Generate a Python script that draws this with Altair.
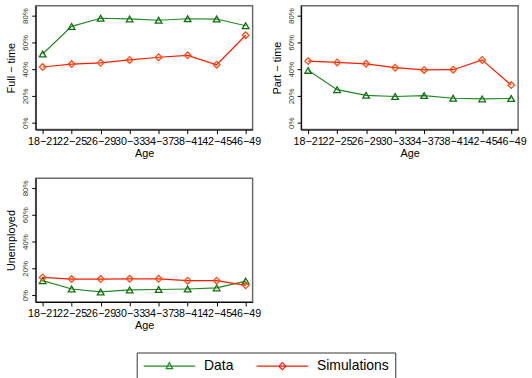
import altair as alt
import pandas as pd

ages = ["18−21", "22−25", "26−29", "30−33", "34−37", "38−41", "42−45", "46−49"]
series = ["Data", "Simulations"]
ft_data = [51.3, 71.9, 78.0, 77.5, 76.5, 77.6, 77.4, 72.4]
ft_sim = [41.6, 43.8, 44.7, 46.9, 48.9, 50.3, 43.3, 65.3]
pt_data = [39.1, 24.7, 20.5, 19.6, 20.3, 18.3, 17.8, 18.1]
pt_sim = [46.0, 45.0, 44.0, 41.1, 39.4, 39.6, 46.9, 28.1]
un_data = [10.8, 4.6, 2.4, 3.9, 4.2, 4.6, 5.4, 10.5]
un_sim = [13.2, 12.0, 12.0, 12.2, 12.2, 10.8, 10.8, 7.3]
y_ticks = [0, 0.2, 0.4, 0.6, 0.8]

GREEN = "#1f8a1f"
GREEN_MK = "#0f700f"
RED = "#ff1a00"
RED_MK = "#ff4a10"
FONT = "Liberation Sans"

TRI_PATH = "M-1,0H7M3,-0.55L3.5,0.4L2.5,0.4Z"
DIA_PATH = "M-1,0H7M3,-0.55L3.55,0L3,0.55L2.45,0Z"

legend = alt.Legend(
    title=None, orient="none", legendX=102, legendY=350, direction="horizontal",
    symbolSize=169, symbolStrokeWidth=1.2, symbolFillColor="transparent",
    symbolType=alt.ExprRef(f"datum.value === 'Data' ? '{TRI_PATH}' : '{DIA_PATH}'"),
    labelFontSize=14, labelFont=FONT, labelColor="black",
    strokeColor="#333", padding=6, columnPadding=20, labelOffset=47,
)


def panel(title, d, s):
    df = pd.DataFrame({
        "Age": ages * 2,
        "Series": ["Data"] * len(ages) + ["Simulations"] * len(ages),
        "v": [v / 100 for v in d + s],
    })
    x = alt.X("Age:N", sort=ages, scale=alt.Scale(type="point", padding=0.24),
              axis=alt.Axis(title="Age", labelAngle=0, labelOverlap=False, labelFontSize=10.8,
                            titlePadding=1, labelPadding=2, titleFontWeight="normal",
                            titleFontSize=11, grid=False))
    y = alt.Y("v:Q", scale=alt.Scale(domain=[-0.051, 0.873], nice=False, zero=False),
              axis=alt.Axis(title=title, values=y_ticks, format=".0%", labelAngle=-90,
                            labelFontSize=8, labelColor="#333", titlePadding=5, labelPadding=2,
                            titleFontWeight="normal", titleFontSize=11, grid=False))
    color = alt.Color("Series:N", scale=alt.Scale(domain=series, range=[GREEN, RED]), legend=legend)
    base = alt.Chart(df)
    line = base.mark_line(strokeWidth=1.2).encode(x=x, y=y, color=color)
    tri = base.transform_filter(alt.datum.Series == "Data").mark_point(
        shape="triangle-up", filled=False, size=45, strokeWidth=1.3, color=GREEN_MK, opacity=1
    ).encode(x=x, y=y)
    dia = base.transform_filter(alt.datum.Series == "Simulations").mark_point(
        shape="diamond", filled=False, size=45, strokeWidth=1.3, color=RED_MK, opacity=1
    ).encode(x=x, y=y)
    return alt.layer(line, tri, dia).properties(width=219, height=125)


p1 = panel("Full − time", ft_data, ft_sim)
p2 = panel("Part − time", pt_data, pt_sim)
p3 = panel("Unemployed", un_data, un_sim)

chart = alt.concat(
    p1, p2, p3, columns=2, spacing=49, bounds="flush",
    background="white", padding={"left": 5, "top": 3, "right": 5, "bottom": 5},
).configure_view(stroke="#6a6a6a", strokeWidth=1.5).configure_axis(
    domainColor="black", tickColor="black", tickSize=4, grid=False,
    labelFont=FONT, titleFont=FONT, labelColor="black", titleColor="black",
    titleFontWeight="normal", titleFontSize=11,
)

chart.save("out.html", embed_options={"renderer": "svg", "actions": False})
